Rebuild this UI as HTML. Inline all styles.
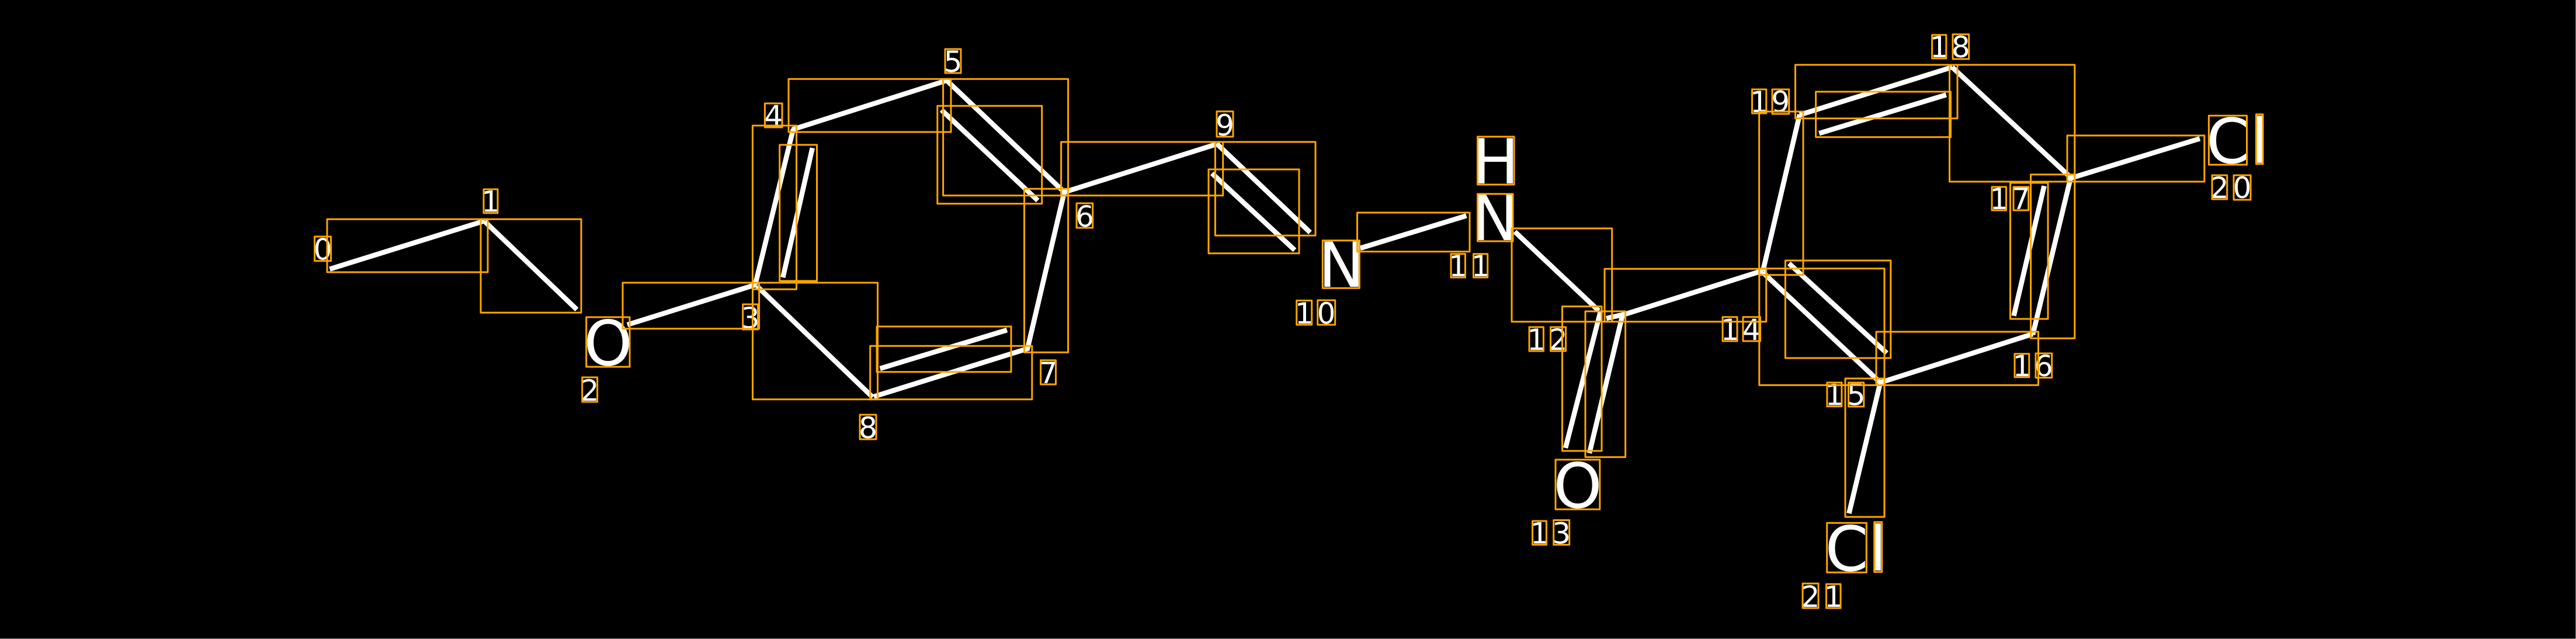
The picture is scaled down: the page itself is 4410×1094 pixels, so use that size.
<!DOCTYPE html>
<html><head><meta charset="utf-8"><style>
html,body{margin:0;padding:0;background:#000;width:4410px;height:1094px;overflow:hidden}
svg{display:block}
text{font-family:"DejaVu Sans","Liberation Sans",sans-serif;fill:#fff;text-anchor:middle}
.a{font-size:106px}.d{font-size:50px}
</style></head><body>
<svg width="4410" height="1094" viewBox="0 0 4410 1094" xmlns="http://www.w3.org/2000/svg">
<rect width="4410" height="1094" fill="#000"/>
<g stroke="#fff" stroke-width="8.5" fill="none">
<line x1="564.5" y1="460.7" x2="830" y2="378"/>
<line x1="829.7" y1="379" x2="987.5" y2="530"/>
<line x1="1074" y1="556" x2="1295" y2="487"/>
<line x1="1296" y1="490" x2="1494" y2="680"/>
<line x1="1293" y1="487" x2="1358" y2="221"/>
<line x1="1390.8" y1="253.3" x2="1340.3" y2="475"/>
<line x1="1356" y1="222" x2="1620" y2="138"/>
<line x1="1620" y1="137" x2="1822" y2="329"/>
<line x1="1611.8" y1="188.3" x2="1776.6" y2="343.3"/>
<line x1="1822" y1="329" x2="1759" y2="597"/>
<line x1="1822" y1="329" x2="2083" y2="246.7"/>
<line x1="2083" y1="246" x2="2243" y2="398"/>
<line x1="2074.8" y1="296.7" x2="2216.5" y2="428.3"/>
<line x1="1496" y1="679" x2="1762" y2="596"/>
<line x1="1506.6" y1="631" x2="1724" y2="565"/>
<line x1="2328.6" y1="425" x2="2510.4" y2="369.3"/>
<line x1="2593.3" y1="396.7" x2="2737" y2="532"/>
<line x1="2739.8" y1="534" x2="2680" y2="767"/>
<line x1="2778" y1="538" x2="2721" y2="775.7"/>
<line x1="2750" y1="545" x2="2782" y2="538"/>
<line x1="2782" y1="538" x2="3018" y2="463.3"/>
<line x1="3018" y1="464" x2="3081" y2="196"/>
<line x1="3081" y1="196.7" x2="3342" y2="115"/>
<line x1="3114.3" y1="228.3" x2="3331.8" y2="162.3"/>
<line x1="3342" y1="115" x2="3545" y2="304"/>
<line x1="3545" y1="305" x2="3766" y2="237.3"/>
<line x1="3545" y1="304" x2="3480" y2="573"/>
<line x1="3499.5" y1="318.3" x2="3447.5" y2="540.8"/>
<line x1="3018" y1="466.4" x2="3219" y2="655"/>
<line x1="3062.7" y1="451" x2="3230" y2="604.5"/>
<line x1="3219" y1="655" x2="3480" y2="571.8"/>
<line x1="3219" y1="655" x2="3165.4" y2="879"/>
</g>
<text class="d" x="552.6" y="444.5">0</text>
<text class="d" x="840" y="362.5">1</text>
<text class="a" x="1041" y="625">O</text>
<text class="d" x="1009.6" y="686">2</text>
<text class="d" x="1284.6" y="562">3</text>
<text class="d" x="1324.2" y="216">4</text>
<text class="d" x="1631.5" y="123">5</text>
<text class="d" x="1857" y="388">6</text>
<text class="d" x="1794.5" y="656">7</text>
<text class="d" x="1486" y="750">8</text>
<text class="d" x="2097" y="232">9</text>
<text class="a" x="2296.5" y="491">N</text>
<text class="d" x="2232.6" y="554">1</text>
<text class="d" x="2270.5" y="554">0</text>
<text class="a" x="2560.5" y="314">H</text>
<text class="a" x="2559.5" y="411">N</text>
<text class="d" x="2496.2" y="473">1</text>
<text class="d" x="2534.6" y="473">1</text>
<text class="d" x="2630.2" y="599">1</text>
<text class="d" x="2667.5" y="599">2</text>
<text class="a" x="2701" y="869">O</text>
<text class="d" x="2635.5" y="930.5">1</text>
<text class="d" x="2673.2" y="930.5">3</text>
<text class="d" x="2961.5" y="582">1</text>
<text class="d" x="2998.7" y="582">4</text>
<text class="d" x="3140.4" y="693.5">1</text>
<text class="d" x="3177.6" y="693.5">5</text>
<text class="d" x="3461.4" y="644">1</text>
<text class="d" x="3498.8" y="644">6</text>
<text class="d" x="3422.2" y="358">1</text>
<text class="d" x="3459.8" y="358">7</text>
<text class="d" x="3319.7" y="98">1</text>
<text class="d" x="3356.8" y="98">8</text>
<text class="d" x="3011.6" y="192">1</text>
<text class="d" x="3048.3" y="192">9</text>
<text class="a" x="3814" y="279">C</text>
<text class="a" x="3868.2" y="278.5">l</text>
<text class="d" x="3799.8" y="339">2</text>
<text class="d" x="3838.5" y="339">0</text>
<text class="a" x="3161.5" y="977">C</text>
<text class="a" x="3215" y="976.5">l</text>
<text class="d" x="3099.5" y="1039">2</text>
<text class="d" x="3138.7" y="1039">1</text>
<g fill="none" stroke="#FFA500" stroke-width="3" stroke-linejoin="round">
<rect x="560" y="375.3" width="275" height="90.7"/>
<rect x="823" y="375.3" width="172" height="160"/>
<rect x="1066" y="484" width="233.6" height="78.7"/>
<rect x="1288.5" y="484" width="214" height="199.7"/>
<rect x="1288.4" y="215" width="75.1" height="280.3"/>
<rect x="1334.7" y="248" width="63.8" height="233"/>
<rect x="1350" y="135.3" width="278" height="90.7"/>
<rect x="1614.6" y="135.3" width="214" height="199.4"/>
<rect x="1604.8" y="181.3" width="178.9" height="167.4"/>
<rect x="1753.5" y="323.3" width="75.1" height="280"/>
<rect x="1816.6" y="243" width="277.1" height="91.7"/>
<rect x="2080.4" y="243" width="171.6" height="160.3"/>
<rect x="2069" y="290" width="155" height="143.7"/>
<rect x="1489.7" y="592.3" width="277.1" height="91.4"/>
<rect x="1501" y="559" width="230" height="77.7"/>
<rect x="2323.5" y="364" width="192.5" height="66.7"/>
<rect x="2588" y="391" width="171.7" height="159.7"/>
<rect x="2674.5" y="524.6" width="67.5" height="247.4"/>
<rect x="2714" y="533" width="68.6" height="249.6"/>
<rect x="2747" y="460.3" width="276.7" height="90.4"/>
<rect x="3011.6" y="191" width="75.4" height="279.7"/>
<rect x="3011.8" y="459.8" width="214.2" height="199.6"/>
<rect x="3056.4" y="446" width="180.4" height="167"/>
<rect x="3212" y="568" width="277.5" height="91.4"/>
<rect x="3159" y="648" width="67" height="237"/>
<rect x="3476.6" y="298.7" width="75.2" height="280.6"/>
<rect x="3441.5" y="313" width="64.5" height="233"/>
<rect x="3337.5" y="111" width="214.3" height="200"/>
<rect x="3073.5" y="111" width="277.5" height="91.7"/>
<rect x="3108.6" y="157" width="230.9" height="77.7"/>
<rect x="3539" y="232" width="234.8" height="79"/>
<rect x="538.6" y="405" width="28" height="41.7"/>
<rect x="828" y="324" width="24" height="40.7"/>
<rect x="1003.7" y="543" width="74.3" height="85"/>
<rect x="996.7" y="646" width="25.9" height="42"/>
<rect x="1271.7" y="521" width="25.9" height="43"/>
<rect x="1309.4" y="177" width="29.6" height="41"/>
<rect x="1618" y="84" width="27" height="41"/>
<rect x="1843" y="348" width="27.7" height="42"/>
<rect x="1781.6" y="616.7" width="25.9" height="41.3"/>
<rect x="1472" y="710" width="28" height="42"/>
<rect x="2083" y="190.7" width="28" height="43.3"/>
<rect x="2264.3" y="411.7" width="63" height="81.6"/>
<rect x="2219.7" y="514.5" width="26" height="41.5"/>
<rect x="2255.7" y="514" width="30" height="42"/>
<rect x="2529.5" y="234" width="62.5" height="82"/>
<rect x="2529.5" y="332" width="60.5" height="81"/>
<rect x="2484" y="434.7" width="24.4" height="40.3"/>
<rect x="2522.5" y="434.7" width="24.2" height="40.3"/>
<rect x="2618" y="560" width="24.4" height="41"/>
<rect x="2654.5" y="560" width="26.1" height="41"/>
<rect x="2663" y="787" width="75.8" height="85"/>
<rect x="2623.5" y="892" width="23.9" height="40.6"/>
<rect x="2659.7" y="890.5" width="27" height="42.1"/>
<rect x="2949" y="542.7" width="25" height="41.3"/>
<rect x="2984" y="542.7" width="29.5" height="41.3"/>
<rect x="3127.9" y="655" width="25" height="40.7"/>
<rect x="3164.5" y="655" width="26.3" height="41"/>
<rect x="3449" y="605.8" width="24.8" height="39.9"/>
<rect x="3485" y="605" width="27.7" height="41.6"/>
<rect x="3410" y="320" width="24.5" height="40"/>
<rect x="3447" y="320" width="25.7" height="40"/>
<rect x="3307.6" y="59.7" width="24.2" height="40.3"/>
<rect x="3343" y="58.7" width="27.7" height="42.3"/>
<rect x="2999.5" y="153" width="24.3" height="41"/>
<rect x="3034" y="153" width="28.7" height="42"/>
<rect x="3781.4" y="198" width="65.1" height="84"/>
<rect x="3862.4" y="195.7" width="11.6" height="85"/>
<rect x="3787" y="300" width="25.7" height="41"/>
<rect x="3824" y="300" width="29" height="42"/>
<rect x="3127.7" y="895.3" width="67.6" height="84.7"/>
<rect x="3208.7" y="893.7" width="13" height="85.6"/>
<rect x="3086" y="999" width="27" height="42"/>
<rect x="3126.5" y="1000" width="24.5" height="41"/>
</g>
<line x1="4409.5" y1="0" x2="4409.5" y2="1094" stroke="#888" stroke-width="1"/>
<line x1="0" y1="1093.5" x2="4410" y2="1093.5" stroke="#888" stroke-width="1"/>
</svg>
</body></html>
